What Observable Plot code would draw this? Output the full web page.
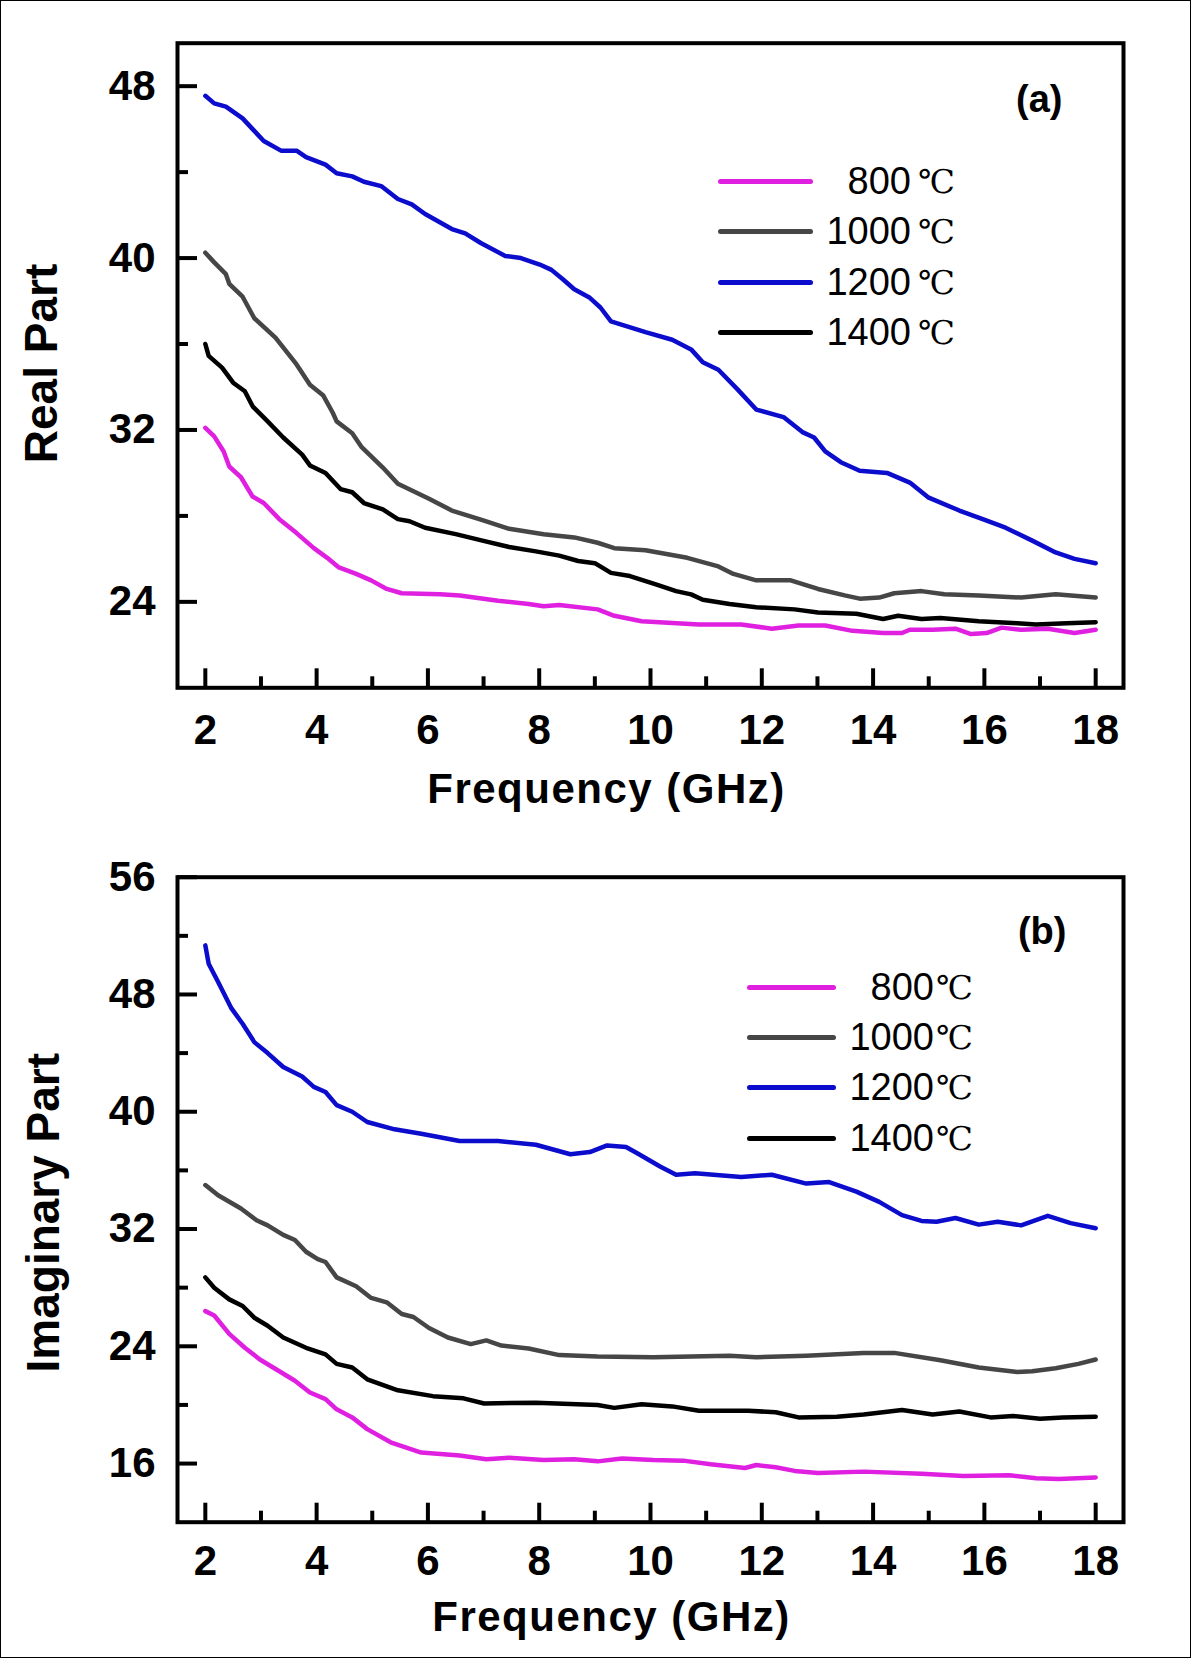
<!DOCTYPE html>
<html>
<head>
<meta charset="utf-8">
<script src="https://cdn.jsdelivr.net/npm/d3@7"></script>
<script src="https://cdn.jsdelivr.net/npm/@observablehq/plot@0.6"></script>
<style>
html,body{margin:0;padding:0;background:#fff;}
#wrap{position:relative;width:1195px;height:1659px;overflow:hidden;background:#fff;}
#border{position:absolute;left:0;top:0;width:1191px;height:1658px;border:1.5px solid #000;box-sizing:border-box;}
.panel{position:absolute;left:0;}
.legend{position:absolute;}
.row{display:flex;align-items:center;height:50.3px;}
.sw{height:5px;border-radius:3px;flex:none;}
.num{flex:none;font-family:"Liberation Sans",Arial,sans-serif;font-size:38px;text-align:right;color:#000;}
.deg{flex:none;font-family:"Liberation Serif","DejaVu Serif",serif;font-size:33px;color:#000;}
</style>
</head>
<body>
<div id="wrap"><div id="border"></div></div>
<script>
// ---- categories, colours, ticks, titles ----
const temps = ["800", "1000", "1200", "1400"];
const unit = "℃";
const colors = ["#e020e0", "#464646", "#0c0ccc", "#000000"];
const xMajor = [2, 4, 6, 8, 10, 12, 14, 16, 18];
const xMinor = [3, 5, 7, 9, 11, 13, 15, 17];
const realMajor = [24, 32, 40, 48];
const realMinor = [28, 36, 44];
const imagMajor = [16, 24, 32, 40, 48, 56];
const imagMinor = [20, 28, 36, 44, 52];
const xTitle = "Frequency (GHz)";
const realTitle = "Real Part";
const imagTitle = "Imaginary Part";
const tags = ["(a)", "(b)"];

// ---- (a) real part: [frequency GHz, value] ----
const real800 = [[2,32.1],[2.16,31.7],[2.33,31.0],[2.43,30.3],[2.64,29.8],[2.85,28.9],[3.05,28.6],[3.33,27.85],[3.64,27.2],[3.95,26.5],[4.19,26.05],[4.4,25.6],[4.71,25.3],[4.98,25.0],[5.26,24.6],[5.53,24.4],[6.22,24.35],[6.57,24.3],[7.26,24.05],[7.81,23.9],[8.08,23.8],[8.36,23.85],[9.05,23.65],[9.35,23.35],[9.84,23.1],[10.87,22.95],[11.63,22.95],[12.18,22.75],[12.66,22.9],[13.14,22.9],[13.63,22.65],[14.18,22.55],[14.52,22.55],[14.66,22.7],[15.07,22.7],[15.48,22.75],[15.76,22.5],[16.04,22.55],[16.31,22.8],[16.66,22.7],[17.14,22.75],[17.62,22.55],[18,22.7]];
const real1000 = [[2,40.25],[2.16,39.8],[2.37,39.25],[2.43,38.8],[2.67,38.2],[2.88,37.2],[3.26,36.3],[3.64,35.05],[3.88,34.1],[4.12,33.6],[4.29,32.8],[4.36,32.4],[4.64,31.85],[4.81,31.2],[5.19,30.25],[5.46,29.5],[5.74,29.15],[6.02,28.8],[6.43,28.25],[6.98,27.8],[7.46,27.4],[8.08,27.15],[8.63,27.0],[9.05,26.75],[9.35,26.5],[9.91,26.4],[10.66,26.05],[11.22,25.65],[11.49,25.3],[11.9,25.0],[12.52,25.0],[13.01,24.6],[13.49,24.3],[13.76,24.15],[14.11,24.2],[14.38,24.4],[14.87,24.5],[15.28,24.35],[15.9,24.3],[16.66,24.2],[17.28,24.35],[18,24.2]];
const real1200 = [[2,47.55],[2.16,47.2],[2.37,47.05],[2.67,46.5],[2.85,46.0],[3.05,45.45],[3.36,45.0],[3.64,45.0],[3.81,44.7],[4.16,44.35],[4.36,43.95],[4.64,43.8],[4.85,43.55],[5.16,43.35],[5.46,42.75],[5.71,42.5],[5.95,42.05],[6.43,41.35],[6.67,41.15],[6.95,40.7],[7.39,40.1],[7.67,40.0],[8.01,39.7],[8.22,39.45],[8.43,39.0],[8.63,38.55],[8.91,38.15],[9.1,37.7],[9.29,37.05],[9.91,36.55],[10.39,36.2],[10.73,35.75],[10.94,35.15],[11.22,34.8],[11.56,33.9],[11.9,32.95],[12.39,32.6],[12.73,31.9],[12.94,31.65],[13.14,31.0],[13.42,30.5],[13.76,30.1],[14.25,30.0],[14.66,29.55],[15.0,28.85],[15.55,28.25],[15.97,27.85],[16.38,27.45],[16.86,26.85],[17.28,26.3],[17.62,26.0],[18,25.8]];
const real1400 = [[2,36.0],[2.06,35.45],[2.3,34.9],[2.5,34.2],[2.71,33.8],[2.85,33.1],[3.12,32.4],[3.4,31.65],[3.74,30.85],[3.88,30.35],[4.16,30.0],[4.43,29.25],[4.64,29.1],[4.85,28.6],[5.19,28.3],[5.46,27.85],[5.67,27.75],[5.95,27.45],[6.5,27.15],[6.98,26.85],[7.46,26.55],[7.94,26.35],[8.36,26.15],[8.7,25.9],[9.0,25.8],[9.29,25.35],[9.63,25.2],[10.11,24.8],[10.46,24.5],[10.73,24.35],[10.94,24.1],[11.42,23.9],[11.9,23.75],[12.59,23.65],[13.01,23.5],[13.7,23.45],[14.18,23.2],[14.45,23.35],[14.87,23.2],[15.21,23.25],[15.9,23.1],[16.59,23.0],[16.93,22.95],[17.48,23.0],[18,23.05]];

// ---- (b) imaginary part: [frequency GHz, value] ----
const imag800 = [[2,26.4],[2.16,26.1],[2.43,24.85],[2.71,23.9],[2.98,23.1],[3.33,22.3],[3.61,21.65],[3.88,20.85],[4.16,20.4],[4.36,19.7],[4.64,19.15],[4.91,18.35],[5.33,17.45],[5.88,16.75],[6.57,16.55],[7.05,16.3],[7.46,16.4],[8.08,16.25],[8.63,16.3],[9.05,16.15],[9.49,16.35],[10.05,16.25],[10.59,16.2],[11.08,15.95],[11.7,15.7],[11.9,15.9],[12.25,15.75],[12.59,15.5],[13.01,15.35],[13.83,15.45],[14.87,15.3],[15.62,15.15],[16.45,15.2],[16.93,15.0],[17.34,14.95],[18,15.05]];
const imag1000 = [[2,35.0],[2.23,34.3],[2.64,33.4],[2.92,32.6],[3.12,32.25],[3.4,31.6],[3.61,31.25],[3.81,30.45],[4.02,29.95],[4.16,29.75],[4.36,28.7],[4.71,28.1],[4.98,27.3],[5.26,27.0],[5.53,26.2],[5.74,26.0],[6.02,25.25],[6.36,24.6],[6.77,24.15],[7.05,24.4],[7.32,24.05],[7.81,23.85],[8.36,23.4],[9.05,23.3],[10.05,23.25],[11.42,23.35],[11.9,23.25],[12.8,23.35],[13.83,23.55],[14.38,23.55],[15.21,23.05],[15.9,22.55],[16.59,22.25],[16.86,22.3],[17.28,22.5],[17.69,22.8],[18,23.1]];
const imag1200 = [[2,51.35],[2.06,50.1],[2.23,48.85],[2.47,47.05],[2.67,46.0],[2.88,44.75],[3.12,44.0],[3.4,43.05],[3.74,42.4],[3.95,41.7],[4.16,41.35],[4.36,40.45],[4.64,40.0],[4.91,39.3],[5.4,38.8],[5.88,38.5],[6.57,38.0],[7.26,38.0],[7.94,37.75],[8.56,37.1],[8.91,37.25],[9.22,37.7],[9.56,37.6],[9.77,37.15],[10.18,36.25],[10.46,35.7],[10.8,35.8],[11.63,35.55],[12.18,35.7],[12.8,35.1],[13.21,35.2],[13.7,34.55],[14.11,33.85],[14.52,32.95],[14.87,32.55],[15.14,32.5],[15.48,32.75],[15.9,32.3],[16.24,32.5],[16.66,32.25],[17.14,32.9],[17.55,32.4],[18,32.05]];
const imag1400 = [[2,28.7],[2.16,28.0],[2.43,27.2],[2.67,26.75],[2.88,25.95],[3.12,25.4],[3.4,24.6],[3.81,23.9],[4.16,23.45],[4.36,22.8],[4.64,22.55],[4.91,21.75],[5.46,21.0],[6.09,20.6],[6.64,20.45],[7.01,20.1],[7.94,20.15],[9.05,20.0],[9.35,19.8],[9.84,20.05],[10.39,19.9],[10.87,19.6],[11.76,19.6],[12.25,19.5],[12.66,19.15],[13.35,19.2],[13.83,19.35],[14.52,19.65],[15.07,19.35],[15.55,19.55],[16.11,19.15],[16.52,19.25],[17.0,19.05],[17.41,19.15],[18,19.2]];

function table(arrs) {
  return arrs.flatMap((arr, i) => arr.map(([f, v]) => ({s: temps[i], f, v})));
}

const W = 1195, ML = 177, MR = 72;
const FONT = "'Liberation Sans', Arial, sans-serif";

function makePanel(o) {
  const frameW = W - ML - MR;
  const frameH = o.height - o.mt - o.mb;
  const svg = Plot.plot({
    width: W, height: o.height,
    marginLeft: ML, marginRight: MR, marginTop: o.mt, marginBottom: o.mb,
    style: {fontFamily: FONT, background: "transparent", color: "#000", overflow: "visible"},
    x: {domain: [1.5, 18.5]},
    y: {domain: o.yDomain},
    color: {domain: temps, range: colors},
    marks: [
      Plot.line(o.data, {x: "f", y: "v", z: "s", stroke: "s", strokeWidth: 4.5, strokeLinejoin: "round", strokeLinecap: "round"}),
      Plot.tickX(xMajor, {x: d => d, insetTop: frameH - 19, stroke: "#000", strokeWidth: 4}),
      Plot.tickX(xMinor, {x: d => d, insetTop: frameH - 11, stroke: "#000", strokeWidth: 4}),
      Plot.tickY(o.yMajor, {y: d => d, insetRight: frameW - 20, stroke: "#000", strokeWidth: 4}),
      Plot.tickY(o.yMinor, {y: d => d, insetRight: frameW - 11, stroke: "#000", strokeWidth: 4}),
      Plot.axisX({ticks: xMajor, tickSize: 0, tickPadding: o.xPad, tickFormat: d => `${d}`, label: null, fontSize: 42, fontWeight: "bold", fontFamily: FONT}),
      Plot.axisY({ticks: o.yMajor, tickSize: 0, tickPadding: 22, tickFormat: d => `${d}`, label: null, fontSize: 42, fontWeight: "bold", fontFamily: FONT}),
      Plot.frame({stroke: "#000", strokeWidth: 4}),
      Plot.text([xTitle], {text: d => d, frameAnchor: "bottom", textAnchor: "middle", lineAnchor: "top", dx: o.tdx, dy: o.tdy, fontSize: 42, fontWeight: "bold", fontFamily: FONT}),
      Plot.text([o.yTitle], {text: d => d, frameAnchor: "left", textAnchor: "middle", lineAnchor: "middle", rotate: -90, dx: o.ydx, dy: o.ydy, fontSize: 46, fontWeight: "bold", fontFamily: FONT}),
      Plot.text([o.tag], {text: d => d, frameAnchor: "top-right", textAnchor: "end", lineAnchor: "middle", dx: o.tagDx, dy: o.tagDy, fontSize: 38, fontWeight: "bold", fontFamily: FONT})
    ]
  });
  d3.select(svg).selectAll("text").filter(function() { return this.textContent === xTitle; })
    .attr("letter-spacing", "1.5px");
  return svg;
}

function addLegend(parent, o) {
  const box = d3.select(parent).append("div").attr("class", "legend")
    .style("left", o.left + "px").style("top", o.top + "px");
  temps.forEach((t, i) => {
    const row = box.append("div").attr("class", "row");
    row.append("div").attr("class", "sw").style("width", o.sw + "px").style("background", colors[i]);
    row.append("span").attr("class", "num").style("width", o.nw + "px").text(t);
    row.append("span").attr("class", "deg").style("margin-left", o.gap + "px").text(unit);
  });
}

const wrap = document.getElementById("wrap");

const pa = document.createElement("div");
pa.className = "panel"; pa.style.top = "0px";
pa.appendChild(makePanel({
  data: table([real800, real1000, real1200, real1400]),
  height: 830, mt: 42.7, mb: 142.7,
  yDomain: [20, 50], yMajor: realMajor, yMinor: realMinor,
  yTitle: realTitle, tag: tags[0],
  xPad: 26, tdx: -44, tdy: 85, ydx: -135, ydy: -2, tagDx: -61, tagDy: 57
}));
wrap.appendChild(pa);

const pb = document.createElement("div");
pb.className = "panel"; pb.style.top = "830px";
pb.appendChild(makePanel({
  data: table([imag800, imag1000, imag1200, imag1400]),
  height: 829, mt: 46.7, mb: 137.3,
  yDomain: [12, 56], yMajor: imagMajor, yMinor: imagMinor,
  yTitle: imagTitle, tag: tags[1],
  xPad: 23, tdx: -39, tdy: 79, ydx: -133, ydy: 13, tagDx: -57, tagDy: 55
}));
wrap.appendChild(pb);

addLegend(wrap, {left: 717.5, top: 156.5, sw: 95.5, nw: 98, gap: 7});
addLegend(wrap, {left: 747, top: 962.2, sw: 89, nw: 98, gap: 2});
</script>
</body>
</html>
